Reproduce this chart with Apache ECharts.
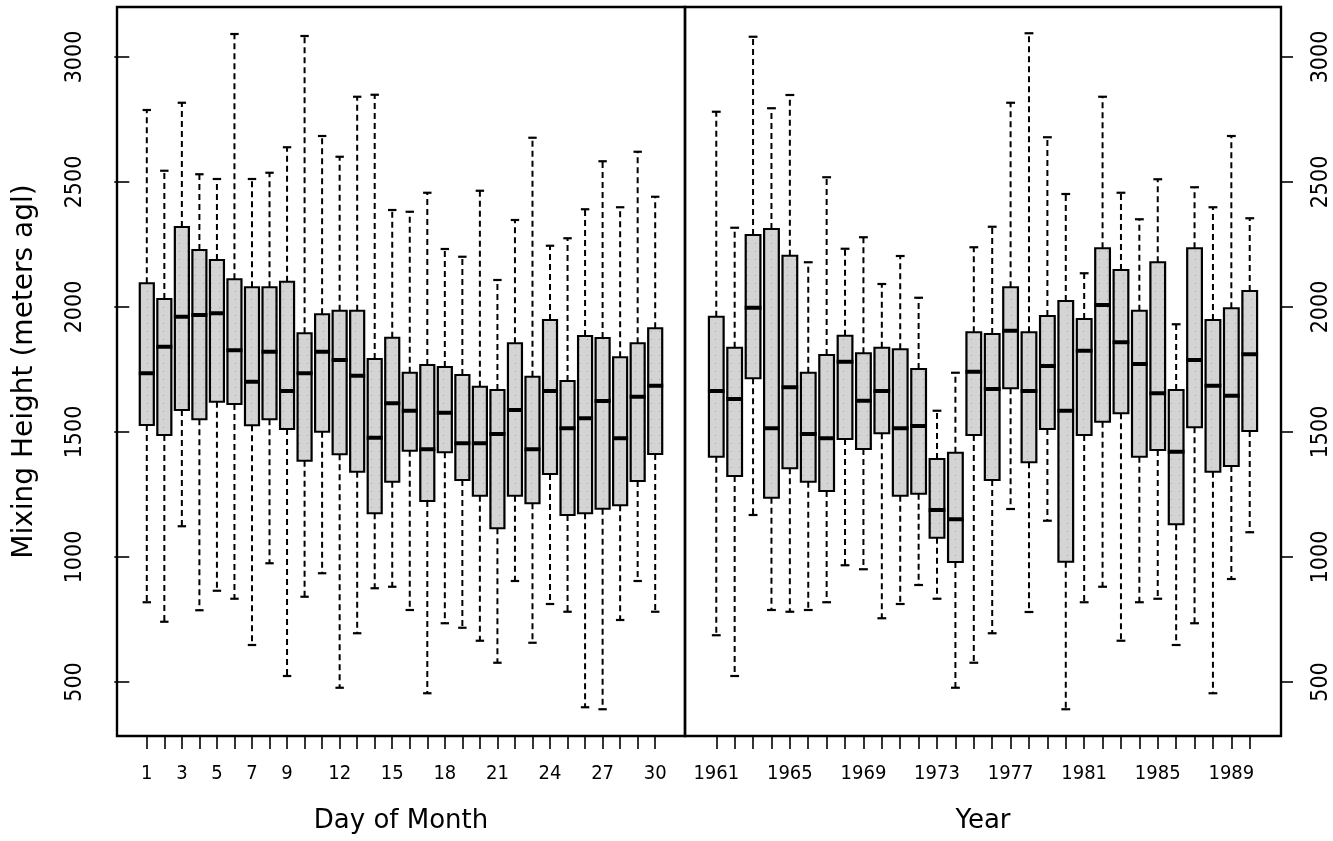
<!DOCTYPE html>
<html>
<head>
<meta charset="utf-8">
<script src="https://cdn.jsdelivr.net/npm/echarts@6.0.0/dist/echarts.min.js"></script>
<style>
    html, body { margin: 0; padding: 0; background: #fff; }
    #main { width: 1333px; height: 841px; }
</style>
</head>
<body>
<div id="main"></div>
<script>
    var days = [1, 2, 3, 4, 5, 6, 7, 8, 9, 10, 11, 12, 13, 14, 15,
        16, 17, 18, 19, 20, 21, 22, 23, 24, 25, 26, 27, 28, 29, 30];
    var dayLabels = [1, 3, 5, 7, 9, 12, 15, 18, 21, 24, 27, 30];
    // [lower whisker, Q1, median, Q3, upper whisker]
    var dayBoxes = [
        [819, 1528, 1735, 2095, 2788],
        [741, 1488, 1841, 2032, 2545],
        [1123, 1588, 1961, 2320, 2817],
        [787, 1551, 1968, 2228, 2531],
        [865, 1621, 1975, 2188, 2512],
        [833, 1612, 1827, 2111, 3092],
        [648, 1527, 1701, 2079, 2512],
        [975, 1551, 1821, 2079, 2537],
        [524, 1512, 1664, 2101, 2639],
        [841, 1385, 1735, 1895, 3084],
        [935, 1501, 1821, 1971, 2684],
        [477, 1411, 1788, 1985, 2601],
        [695, 1341, 1725, 1985, 2841],
        [875, 1175, 1477, 1792, 2849],
        [881, 1301, 1615, 1877, 2388],
        [788, 1425, 1585, 1737, 2381],
        [455, 1224, 1431, 1768, 2457],
        [735, 1419, 1577, 1760, 2232],
        [717, 1308, 1455, 1728, 2201],
        [665, 1245, 1455, 1681, 2465],
        [577, 1115, 1492, 1668, 2108],
        [904, 1245, 1588, 1855, 2348],
        [657, 1215, 1431, 1721, 2677],
        [812, 1332, 1664, 1948, 2245],
        [781, 1168, 1515, 1704, 2275],
        [399, 1175, 1555, 1884, 2391],
        [391, 1193, 1624, 1876, 2583],
        [748, 1207, 1475, 1799, 2399],
        [904, 1304, 1641, 1855, 2621],
        [781, 1412, 1685, 1915, 2441]
    ];

    var years = [1961, 1962, 1963, 1964, 1965, 1966, 1967, 1968, 1969, 1970,
        1971, 1972, 1973, 1974, 1975, 1976, 1977, 1978, 1979, 1980,
        1981, 1982, 1983, 1984, 1985, 1986, 1987, 1988, 1989, 1990];
    var yearLabels = [1961, 1965, 1969, 1973, 1977, 1981, 1985, 1989];
    var yearBoxes = [
        [687, 1401, 1664, 1961, 2781],
        [524, 1324, 1632, 1837, 2317],
        [1168, 1715, 1997, 2288, 3081],
        [788, 1237, 1515, 2312, 2795],
        [781, 1355, 1679, 2205, 2848],
        [788, 1301, 1492, 1737, 2179],
        [819, 1264, 1475, 1808, 2519],
        [967, 1472, 1781, 1885, 2233],
        [951, 1432, 1625, 1815, 2279],
        [755, 1495, 1664, 1837, 2092],
        [812, 1245, 1515, 1831, 2204],
        [888, 1253, 1524, 1752, 2037],
        [833, 1077, 1188, 1392, 1585],
        [477, 980, 1151, 1417, 1737],
        [577, 1488, 1741, 1899, 2239],
        [695, 1308, 1672, 1892, 2321],
        [1192, 1675, 1905, 2079, 2817],
        [780, 1379, 1664, 1899, 3095],
        [1145, 1512, 1764, 1964, 2679],
        [391, 981, 1585, 2024, 2452],
        [819, 1488, 1825, 1952, 2135],
        [881, 1541, 2008, 2235, 2841],
        [665, 1575, 1859, 2148, 2457],
        [819, 1401, 1772, 1985, 2351],
        [833, 1428, 1655, 2179, 2511],
        [648, 1131, 1421, 1668, 1931],
        [735, 1519, 1788, 2235, 2479],
        [455, 1341, 1685, 1948, 2399],
        [912, 1364, 1645, 1995, 2684],
        [1099, 1504, 1811, 2064, 2355]
    ];

    var yTicks = [500, 1000, 1500, 2000, 2500, 3000];

    var tickFont = "'Liberation Sans Narrow', 'DejaVu Sans Condensed', 'Liberation Sans', sans-serif";
    var titleFont = "'DejaVu Sans', sans-serif";

    // grey box fill with faint dots
    var dots = document.createElement('canvas');
    dots.width = 8;
    dots.height = 8;
    var dctx = dots.getContext('2d');
    dctx.fillStyle = '#d4d4d4';
    dctx.fillRect(0, 0, 8, 8);
    dctx.fillStyle = '#a6a6a6';
    dctx.fillRect(3, 3, 1, 1);

    function plain(v) {
        return String(v);
    }

    function renderBox(params, api) {
        var x = api.value(0);
        var lo = api.coord([x, api.value(1)]);
        var q1 = api.coord([x, api.value(2)]);
        var med = api.coord([x, api.value(3)]);
        var q3 = api.coord([x, api.value(4)]);
        var hi = api.coord([x, api.value(5)]);
        var hw = api.size([0.8, 0])[0] / 2;
        var cx = lo[0];
        var cap = hw * 0.6;
        var dashed = {stroke: '#000', lineWidth: 2, lineDash: [6, 4]};
        var solid = {stroke: '#000', lineWidth: 2.2};
        return {
            type: 'group',
            children: [
                {type: 'line', shape: {x1: cx, y1: q3[1], x2: cx, y2: hi[1]}, style: dashed},
                {type: 'line', shape: {x1: cx, y1: q1[1], x2: cx, y2: lo[1]}, style: dashed},
                {type: 'line', shape: {x1: cx - cap, y1: hi[1], x2: cx + cap, y2: hi[1]}, style: solid},
                {type: 'line', shape: {x1: cx - cap, y1: lo[1], x2: cx + cap, y2: lo[1]}, style: solid},
                {
                    type: 'rect',
                    shape: {x: cx - hw, y: q3[1], width: hw * 2, height: q1[1] - q3[1]},
                    style: {fill: {image: dots, repeat: 'repeat'}, stroke: '#000', lineWidth: 2.2}
                },
                {type: 'line', shape: {x1: cx - hw - 1, y1: med[1], x2: cx + hw + 1, y2: med[1]},
                    style: {stroke: '#000', lineWidth: 4}}
            ]
        };
    }

    function xAxisOf(gridIndex, min, max, ticks, labels, name) {
        return {
            gridIndex: gridIndex,
            type: 'value',
            min: min,
            max: max,
            name: name,
            nameLocation: 'middle',
            nameGap: 72,
            nameTextStyle: {color: '#000', fontFamily: titleFont, fontSize: 26},
            axisLine: {show: false},
            splitLine: {show: false},
            axisTick: {show: true, customValues: ticks, length: 13, lineStyle: {color: '#000', width: 1.6}},
            axisLabel: {customValues: labels, formatter: plain, margin: 28, color: '#000',
                fontFamily: tickFont, fontSize: 20}
        };
    }

    function yAxisOf(gridIndex, position) {
        var left = position === 'left';
        return {
            gridIndex: gridIndex,
            type: 'value',
            position: position,
            min: 284,
            max: 3200,
            name: left ? 'Mixing Height (meters agl)' : '',
            nameLocation: 'middle',
            nameRotate: 90,
            nameGap: 78,
            nameTextStyle: {color: '#000', fontFamily: titleFont, fontSize: 28},
            axisLine: {show: false},
            splitLine: {show: false},
            axisTick: {show: true, customValues: yTicks, length: left ? 15 : 12, lineStyle: {color: '#000', width: 1.6}},
            axisLabel: {customValues: yTicks, formatter: plain, rotate: 90, margin: left ? 30 : 29, color: '#000',
                fontFamily: tickFont, fontSize: 23}
        };
    }

    var option = {
        animation: false,
        backgroundColor: '#fff',
        grid: [
            {left: 117, top: 7, width: 568, height: 729, show: true, borderColor: '#000', borderWidth: 2.4},
            {left: 685, top: 7, width: 597, height: 729, show: true, borderColor: '#000', borderWidth: 2.4}
        ],
        xAxis: [
            xAxisOf(0, -0.7, 31.7, days, dayLabels, 'Day of Month'),
            xAxisOf(1, 1959.3, 1991.7, years, yearLabels, 'Year')
        ],
        yAxis: [
            yAxisOf(0, 'left'),
            yAxisOf(1, 'right')
        ],
        series: [
            {
                type: 'custom',
                xAxisIndex: 0,
                yAxisIndex: 0,
                renderItem: renderBox,
                encode: {x: 0, y: [1, 2, 3, 4, 5]},
                data: days.map(function (d, i) { return [d].concat(dayBoxes[i]); })
            },
            {
                type: 'custom',
                xAxisIndex: 1,
                yAxisIndex: 1,
                renderItem: renderBox,
                encode: {x: 0, y: [1, 2, 3, 4, 5]},
                data: years.map(function (y, i) { return [y].concat(yearBoxes[i]); })
            }
        ]
    };

    var chart = echarts.init(document.getElementById('main'));
    chart.setOption(option);
</script>
</body>
</html>
